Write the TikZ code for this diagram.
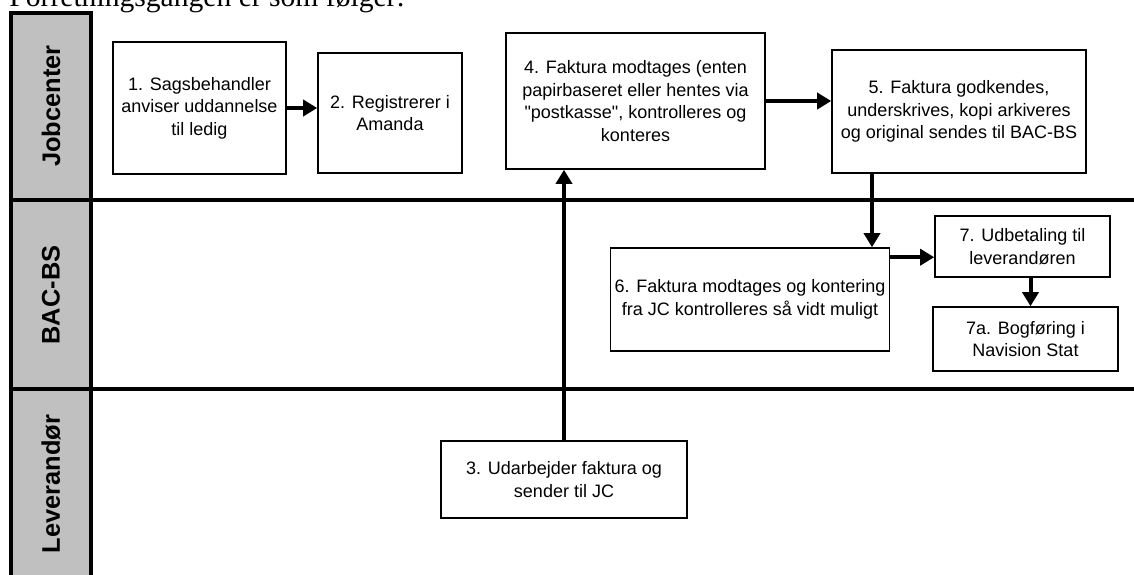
\documentclass[tikz,border=0pt]{standalone}
\usepackage{fontspec}
\setmainfont{Liberation Sans}[Ligatures=TeXOff]
\newfontfamily\titlefont{Liberation Serif}
\usetikzlibrary{arrows.meta}
\definecolor{lanegray}{HTML}{C0C0C0}
\tikzset{>={Triangle[length=7pt,width=8pt]},
stepbox/.style={draw, line width=0.8pt, fill=white, align=center, inner sep=2pt,
  font=\fontsize{9}{11.2}\selectfont},
flow/.style={->, line width=2pt},
lane/.style={line width=1.7pt},
lanelabel/.style={rotate=90, font=\fontsize{12.7}{14}\selectfont\bfseries},
}

\begin{document}
\begin{tikzpicture}[x=0.5pt,y=-0.5pt]
    \clip (0,0) rectangle (1134,574);
    % line of text above, cut off at the top
    \node[anchor=base west, inner sep=0pt, font=\titlefont\fontsize{14.8}{18}\selectfont] (title) at (9,6) {Forretningsgangen er som følger:};

    % swimlanes
    \draw[lane, fill=lanegray] (11,13) rectangle (91,600);
    \draw[lane] (11,200) -- (1140,200);
    \draw[lane] (11,389) -- (1140,389);
    \node[lanelabel] (jc) at (51,106) {Jobcenter};
    \node[lanelabel] (bac) at (51,295) {BAC-BS};
    \node[lanelabel] (lev) at (51,484) {Leverandør};

    % steps
    \node[stepbox, minimum width=86.5pt, minimum height=66pt] (s1) at (199.5,108) {1. Sagsbehandler\\anviser uddannelse\\til ledig};
    \node[stepbox, minimum width=72pt, minimum height=60pt] (s2) at (390,113) {2. Registrerer i\\Amanda};
    \node[stepbox, minimum width=123pt, minimum height=38.5pt] (s3) at (564,479.5) {3. Udarbejder faktura og\\sender til JC};
    \node[stepbox, minimum width=129.5pt, minimum height=68pt] (s4) at (635.5,101) {4. Faktura modtages (enten\\papirbaseret eller hentes via\\"postkasse", kontrolleres og\\konteres};
    \node[stepbox, minimum width=127pt, minimum height=61.5pt] (s5) at (959,111.5) {5. Faktura godkendes,\\underskrives, kopi arkiveres\\og original sendes til BAC-BS};
    \node[stepbox, minimum width=137pt, minimum height=51.5pt] (s6) at (750,299.5) {6. Faktura modtages og kontering\\fra JC kontrolleres så vidt muligt};
    \node[stepbox, minimum width=87.5pt, minimum height=30.5pt] (s7) at (1022.5,246.5) {7. Udbetaling til\\leverandøren};
    \node[stepbox, minimum width=92.5pt, minimum height=32pt] (s7a) at (1025.5,339) {7a. Bogføring i\\Navision Stat};

    \path[flow]
    (s1.east) edge (s1.east -| s2.west)
    (s3.north) edge (s3.north |- s4.south)
    (s4.east) edge (s4.east -| s5.west)
    ([xshift=-43.5pt]s5.south) edge ([xshift=-43.5pt]s5.south |- s6.north)
    ([yshift=-5pt]s6.north east) edge ([yshift=-5pt]s6.north east -| s7.west)
    ([xshift=4pt]s7.south) edge ([xshift=4pt]s7.south |- s7a.north)
    ;
\end{tikzpicture}
\end{document}
